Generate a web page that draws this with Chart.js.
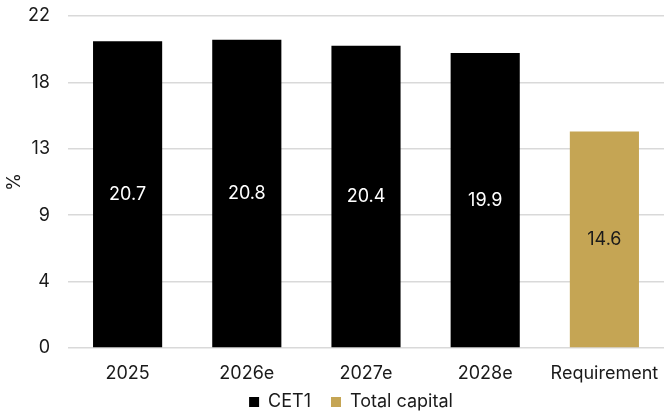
<!DOCTYPE html>
<html><head><meta charset="utf-8">
<script src="https://cdn.jsdelivr.net/npm/chart.js@4"></script>
<style>html,body{margin:0;padding:0;background:#fff}#wrap{width:664px;height:414px}</style>
</head><body><div id="wrap"><canvas id="c"></canvas></div>
<script>
const categories = ["2025", "2026e", "2027e", "2028e", "Requirement"];
const cet1 = [20.7, 20.8, 20.4, 19.9, null];
const totalCapital = [null, null, null, null, 14.6];
const yTicks = [0, 4.48, 8.96, 13.44, 17.92, 22.4];

const FONT = "Inter, 'Noto Sans', sans-serif";
const FS = 18;
const TEXT = '#1a1a1a';

const valueLabels = {
  id: 'valueLabels',
  afterDatasetsDraw(chart) {
    const ctx = chart.ctx;
    ctx.save();
    ctx.font = FS + "px " + FONT;
    ctx.textAlign = 'center';
    ctx.textBaseline = 'middle';
    chart.data.datasets.forEach((ds, i) => {
      const meta = chart.getDatasetMeta(i);
      meta.data.forEach((bar, j) => {
        const v = ds.data[j];
        if (v == null) return;
        ctx.fillStyle = ds.labelColor;
        ctx.fillText(v.toFixed(1), bar.x, (bar.y + bar.base) / 2);
      });
    });
    ctx.restore();
  }
};

const legendShift = {
  id: 'legendShift',
  afterLayout(chart) {
    if (chart.legend) { chart.legend.left += 19; chart.legend.right += 19; }
  }
};

new Chart(document.getElementById('c'), {
  type: 'bar',
  data: {
    labels: categories,
    datasets: [
      { label: 'CET1', data: cet1, backgroundColor: '#000000', labelColor: '#ffffff' },
      { label: 'Total capital', data: totalCapital, backgroundColor: '#C5A554', labelColor: TEXT }
    ]
  },
  options: {
    responsive: true,
    maintainAspectRatio: false,
    animation: false,
    layout: { padding: { top: 16, right: 0, left: 0, bottom: -7 } },
    datasets: { bar: { barPercentage: 0.58, categoryPercentage: 1 } },
    plugins: {
      tooltip: { enabled: false },
      legend: {
        position: 'bottom',
        labels: { boxWidth: 10, boxHeight: 10, color: TEXT, font: { family: FONT, size: FS }, padding: 20 }
      }
    },
    scales: {
      x: {
        stacked: true,
        grid: { display: false, drawTicks: false, tickLength: 0 },
        border: { display: false },
        afterFit(scale) { scale.height = 25; scale.paddingLeft = 0; scale.paddingRight = 0; },
        ticks: { color: TEXT, font: { family: FONT, size: FS }, mirror: true, padding: -36.8, maxRotation: 0, autoSkip: false }
      },
      y: {
        stacked: true,
        min: 0, max: 22.4,
        afterBuildTicks(scale) { scale.ticks = yTicks.map(v => ({ value: v })); },
        afterFit(scale) { scale.width = 68; scale.paddingTop = 0; scale.paddingBottom = 0; },
        grid: { color: '#d9d9d9', lineWidth: 1.5, drawTicks: true, tickLength: 0 },
        border: { display: false },
        ticks: { color: TEXT, font: { family: FONT, size: FS }, padding: 18, callback: v => Math.round(v) },
        title: { display: true, text: '%', color: TEXT, font: { family: FONT, size: FS }, padding: { top: 4, bottom: 0 } }
      }
    }
  },
  plugins: [valueLabels, legendShift]
});
</script></body></html>
